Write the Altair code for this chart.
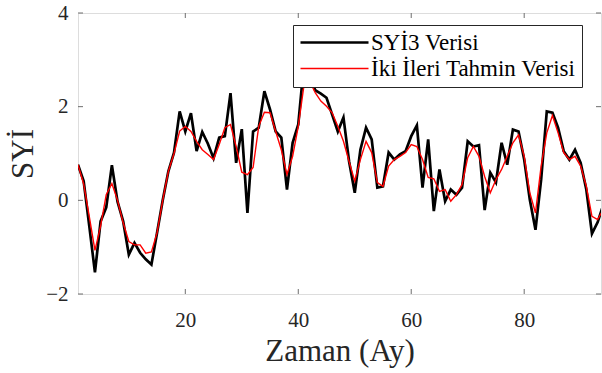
import altair as alt
import pandas as pd

months = list(range(1, 95))

syi3 = [0.76, 0.41, -0.55, -1.54, -0.45, -0.15, 0.75, -0.03, -0.45, -1.16,
        -0.91, -1.12, -1.26, -1.37, -0.69, 0.0, 0.62, 1.02, 1.90, 1.47,
        1.86, 1.05, 1.46, 1.21, 0.90, 1.34, 1.37, 2.29, 0.80, 1.52,
        -0.27, 1.47, 1.55, 2.33, 1.94, 1.47, 1.34, 0.23, 1.23, 1.62,
        2.90, 2.75, 2.35, 2.28, 2.19, 1.83, 1.47, 1.77, 0.83, 0.16,
        1.08, 1.55, 1.30, 0.27, 0.30, 1.02, 0.87, 0.98, 1.05, 1.37,
        1.60, 0.27, 1.30, -0.23, 0.66, -0.02, 0.23, 0.12, 0.27, 1.26,
        1.15, 1.18, -0.21, 0.59, 0.38, 1.23, 0.76, 1.51, 1.47, 0.87,
        0.01, -0.63, 0.44, 1.90, 1.87, 1.55, 1.05, 0.87, 1.08, 0.80,
        0.23, -0.71, -0.47, -0.10]

tahmin = [0.76, 0.35, -0.35, -1.07, -0.55, 0.12, 0.36, 0.0, -0.48, -0.88,
          -0.95, -0.95, -1.13, -1.10, -0.69, 0.0, 0.62, 1.0, 1.48, 1.58,
          1.47, 1.26, 1.08, 0.98, 0.87, 1.19, 1.55, 1.62, 1.15, 0.60,
          0.55, 0.70, 1.58, 1.88, 1.87, 1.47, 1.08, 0.55, 0.94, 1.58,
          2.45, 2.55, 2.30, 2.12, 2.01, 1.87, 1.58, 1.26, 0.83, 0.41,
          0.87, 1.26, 1.02, 0.38, 0.30, 0.73, 0.87, 0.94, 1.02, 1.19,
          1.15, 0.87, 0.49, 0.46, 0.19, 0.23, -0.02, 0.12, 0.34, 0.91,
          1.15, 0.94, 0.51, 0.16, 0.44, 0.66, 0.94, 1.23, 1.40, 0.94,
          0.16, -0.27, 0.73, 1.44, 1.81, 1.44, 1.02, 0.87, 0.94, 0.73,
          0.30, -0.34, -0.41, -0.20]

series_names = ["SYİ3 Verisi", "İki İleri Tahmin Verisi"]
series_colors = ["#000000", "#ff0000"]
series_widths = [2.7, 1.4]
x_ticks = [20, 40, 60, 80]
y_ticks = [-2, 0, 2, 4]

W, H = 523, 281
FONT = "Liberation Serif"
AXC = "#6e6e6e"
TXT = "#262626"

df_a = pd.DataFrame({"Ay": months, "Deger": syi3, "Seri": series_names[0]})
df_b = pd.DataFrame({"Ay": months, "Deger": tahmin, "Seri": series_names[1]})

xs = alt.Scale(domain=[1, 93.6], nice=False, zero=False)
ys = alt.Scale(domain=[-2, 4], nice=False, zero=False)

common_axis = dict(domain=False, ticks=False, grid=False,
                   labelFont=FONT, labelFontSize=21, labelColor=TXT,
                   titleFont=FONT, titleFontSize=31, titleFontWeight="normal",
                   titleColor=TXT)

x_axis = alt.Axis(values=x_ticks, title="Zaman (Ay)", labelPadding=15,
                  titleY=66, titleBaseline="alphabetic", **common_axis)
y_axis = alt.Axis(values=y_ticks, title="SYİ", labelPadding=10,
                  titleX=-46, titleY=H / 2, titleBaseline="alphabetic",
                  titleAngle=270, **common_axis)

leg = alt.Legend(orient="none", legendX=215, legendY=12, title=None,
                 fillColor="white", strokeColor="#262626", padding=6,
                 symbolType="M-1,0H5.8", symbolSize=400,
                 labelFont=FONT, labelFontSize=23, labelColor="#000000",
                 labelOffset=49, rowPadding=2, labelLimit=400)

color = alt.Color("Seri:N", scale=alt.Scale(domain=series_names, range=series_colors),
                  legend=leg)
width_enc = alt.StrokeWidth("Seri:N", scale=alt.Scale(domain=series_names, range=series_widths),
                            legend=leg)

x_enc = alt.X("Ay:Q", scale=xs, axis=x_axis)
y_enc = alt.Y("Deger:Q", scale=ys, axis=y_axis)

line_a = alt.Chart(df_a).mark_line(clip=True).encode(x=x_enc, y=y_enc, color=color, strokeWidth=width_enc)
line_b = alt.Chart(df_b).mark_line(clip=True).encode(x=x_enc, y=y_enc, color=color, strokeWidth=width_enc)

xt = pd.DataFrame({"Ay": x_ticks})
yt = pd.DataFrame({"Deger": y_ticks})
tick_bottom = alt.Chart(xt).mark_rule(color=AXC, strokeWidth=1).encode(
    x=x_enc, y=alt.value(H), y2=alt.value(H - 5))
tick_top = alt.Chart(xt).mark_rule(color=AXC, strokeWidth=1).encode(
    x=x_enc, y=alt.value(0), y2=alt.value(5))
tick_left = alt.Chart(yt).mark_rule(color=AXC, strokeWidth=1).encode(
    y=y_enc, x=alt.value(0), x2=alt.value(5))
tick_right = alt.Chart(yt).mark_rule(color=AXC, strokeWidth=1).encode(
    y=y_enc, x=alt.value(W), x2=alt.value(W - 5))

chart = alt.layer(line_a, line_b, tick_bottom, tick_top, tick_left, tick_right).properties(
    width=W, height=H,
    autosize=alt.AutoSizeParams(type="none"),
    padding={"left": 78, "top": 13, "right": 1, "bottom": 79},
    background="white",
).configure_view(
    stroke=AXC, strokeWidth=1
).configure_axis(
    labelFont=FONT, titleFont=FONT,
).configure(font=FONT)

chart.save("out.html", embed_options={"renderer": "svg", "actions": False})
